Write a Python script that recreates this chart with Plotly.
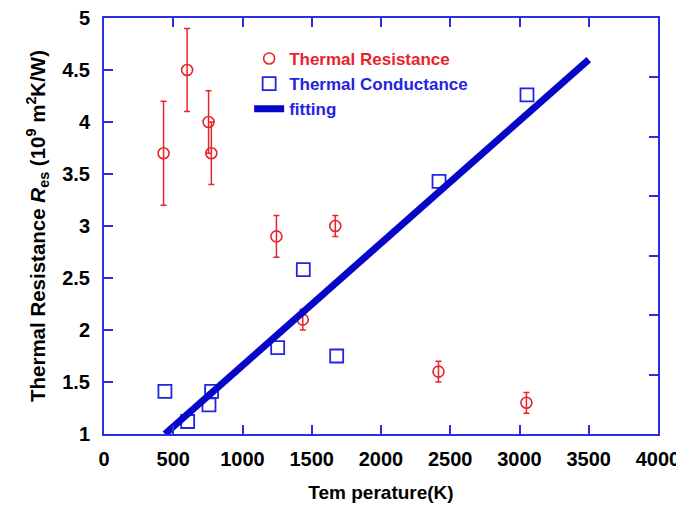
import plotly.graph_objects as go

# Thermal Resistance (red circles with error bars)
res_T = [430, 600, 755, 775, 1245, 1435, 1670, 2415, 3050]
res_R = [3.7, 4.5, 4.0, 3.7, 2.9, 2.1, 3.0, 1.6, 1.3]
res_err = [0.5, 0.4, 0.3, 0.3, 0.2, 0.1, 0.1, 0.1, 0.1]

# Thermal Conductance (blue squares)
cond_T = [440, 604, 758, 777, 1254, 1439, 1680, 2419, 3054]
cond_R = [1.41, 1.12, 1.28, 1.41, 1.83, 2.58, 1.75, 3.43, 4.26]

# fitting line
fit_T = [440, 3500]
fit_R = [1.0, 4.6]

x_ticks = [0, 500, 1000, 1500, 2000, 2500, 3000, 3500, 4000]
y_ticks = [1, 1.5, 2, 2.5, 3, 3.5, 4, 4.5, 5]
right_ticks = [0, 1, 2, 3, 4, 5, 6, 7]

RED = "#e8242b"
BLUE = "#2424e0"
AX = "#2b2bea"
FIT = "#0707c8"
FONT = "Liberation Sans, Arial, sans-serif"

fig = go.Figure()
fig.add_trace(go.Scatter(
    x=res_T, y=res_R, mode="markers",
    name="<span style='color:%s'>Thermal Resistance</span>" % RED,
    marker=dict(symbol="circle-open", size=11, color=RED, line=dict(width=1.6, color=RED)),
    error_y=dict(type="data", array=res_err, visible=True, color=RED, thickness=1.5, width=3),
))
fig.add_trace(go.Scatter(
    x=cond_T, y=cond_R, mode="markers",
    name="<span style='color:%s'>Thermal Conductance</span>" % BLUE,
    marker=dict(symbol="square-open", size=13, color=BLUE, line=dict(width=1.8, color=BLUE)),
))
fig.add_trace(go.Scatter(
    x=fit_T, y=fit_R, mode="lines",
    name="<span style='color:%s'>fitting</span>" % BLUE,
    line=dict(color=FIT, width=7),
))
# right-hand axis (ticks only)
fig.add_trace(go.Scatter(x=[None], y=[None], yaxis="y2", showlegend=False, hoverinfo="skip"))

tickfont = dict(family=FONT, size=20, color="black", weight="bold")
fig.update_layout(
    width=676, height=506,
    margin=dict(l=104, r=18, t=18, b=72, autoexpand=False),
    paper_bgcolor="white", plot_bgcolor="white",
    font=dict(family=FONT),
    showlegend=True,
    legend=dict(x=0.262, y=0.945, xanchor="left", yanchor="top",
                bgcolor="rgba(0,0,0,0)", font=dict(family=FONT, size=17, weight="bold"),
                tracegroupgap=0),
    xaxis=dict(range=[0, 4000], tickvals=x_ticks, ticks="inside", ticklen=9, tickwidth=2,
               tickcolor=AX, showline=True, linecolor=AX, linewidth=2, mirror="ticks",
               showgrid=False, zeroline=False, tickfont=tickfont, ticklabelstandoff=6,
               ticklabeloverflow="allow", automargin=False,
               title=dict(text="Tem perature(K)", font=dict(family=FONT, size=19, color="black", weight="bold"),
                          standoff=17)),
    yaxis=dict(range=[1, 5], tickvals=y_ticks, ticks="inside", ticklen=9, tickwidth=2,
               tickcolor=AX, showline=True, linecolor=AX, linewidth=2, mirror=True,
               showgrid=False, zeroline=False, tickfont=tickfont, ticklabelstandoff=8,
               automargin=False,
               title=dict(text="Thermal Resistance <i>R</i><sub>es</sub> (10<sup>9</sup> m<sup>2</sup>K/W)",
                          font=dict(family=FONT, size=20.5, color="black", weight="bold"), standoff=11)),
    yaxis2=dict(range=[0, 7], tickvals=right_ticks, overlaying="y", side="right",
                ticks="inside", ticklen=9, tickwidth=2, tickcolor=AX, showline=True,
                linecolor=AX, linewidth=2, showgrid=False, zeroline=False,
                showticklabels=False, automargin=False),
)
fig.write_html("out.html")
